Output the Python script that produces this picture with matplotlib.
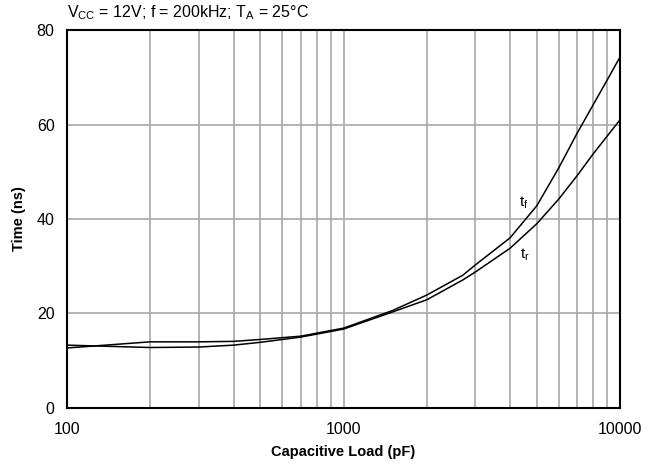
import numpy as np
import matplotlib.pyplot as plt

# capacitive load (pF) and switching times (ns)
load_pf = [100, 200, 300, 400, 500, 700, 1000, 1500, 2000, 2700, 3000,
           4000, 5000, 6000, 7000, 8000, 9000, 10000]
t_fall = [12.7, 14.0, 14.0, 14.1, 14.5, 15.2, 16.9, 20.6, 23.9, 28.1, 30.3,
          36.0, 42.8, 50.8, 58.2, 64.2, 69.5, 74.3]
t_rise = [13.3, 12.8, 12.9, 13.3, 13.9, 15.0, 16.7, 20.3, 22.9, 27.1, 28.8,
          33.8, 39.0, 44.2, 49.2, 53.8, 57.6, 61.0]

plt.rcParams['font.family'] = ['Liberation Sans', 'DejaVu Sans']

fig = plt.figure(figsize=(6.52, 4.66), dpi=100)
ax = fig.add_axes([0.1028, 0.1245, 0.8482, 0.8111])

ax.plot(load_pf, t_fall, color='black', lw=1.1)
ax.plot(load_pf, t_rise, color='black', lw=1.1)

ax.set_xscale('log')
ax.set_xlim(100, 10000)
ax.set_ylim(0, 80)
ax.set_yticks([0, 20, 40, 60, 80])
ax.set_xticks([100, 1000, 10000])
ax.set_xticklabels(['100', '1000', '10000'])
ax.tick_params(axis='both', which='both', length=0, labelsize=11.5)
ax.tick_params(axis='y', pad=9)
ax.tick_params(axis='x', pad=10)

ax.grid(True, which='major', color='#a8a8a8', lw=1.2)
ax.grid(True, which='minor', axis='x', color='#a8a8a8', lw=1.2)
for s in ax.spines.values():
    s.set_linewidth(1.5)
    s.set_color('black')

ax.text(4300, 43.4, '$\\mathregular{t_f}$', fontsize=11, ha='left', va='center')
ax.text(4350, 32.4, '$\\mathregular{t_r}$', fontsize=11, ha='left', va='center')

ax.set_xlabel('Capacitive Load (pF)', fontsize=10.5, fontweight='bold', labelpad=6)
ax.set_ylabel('Time (ns)', fontsize=10.5, fontweight='bold', labelpad=8)

fig.text(0.1028, 0.972, 'V$_{\\mathregular{CC}}$ = 12V; f = 200kHz; T$_{\\mathregular{A}}$ = 25°C',
         fontsize=11.5, ha='left', va='center')

fig.savefig('out.png', dpi=100)
